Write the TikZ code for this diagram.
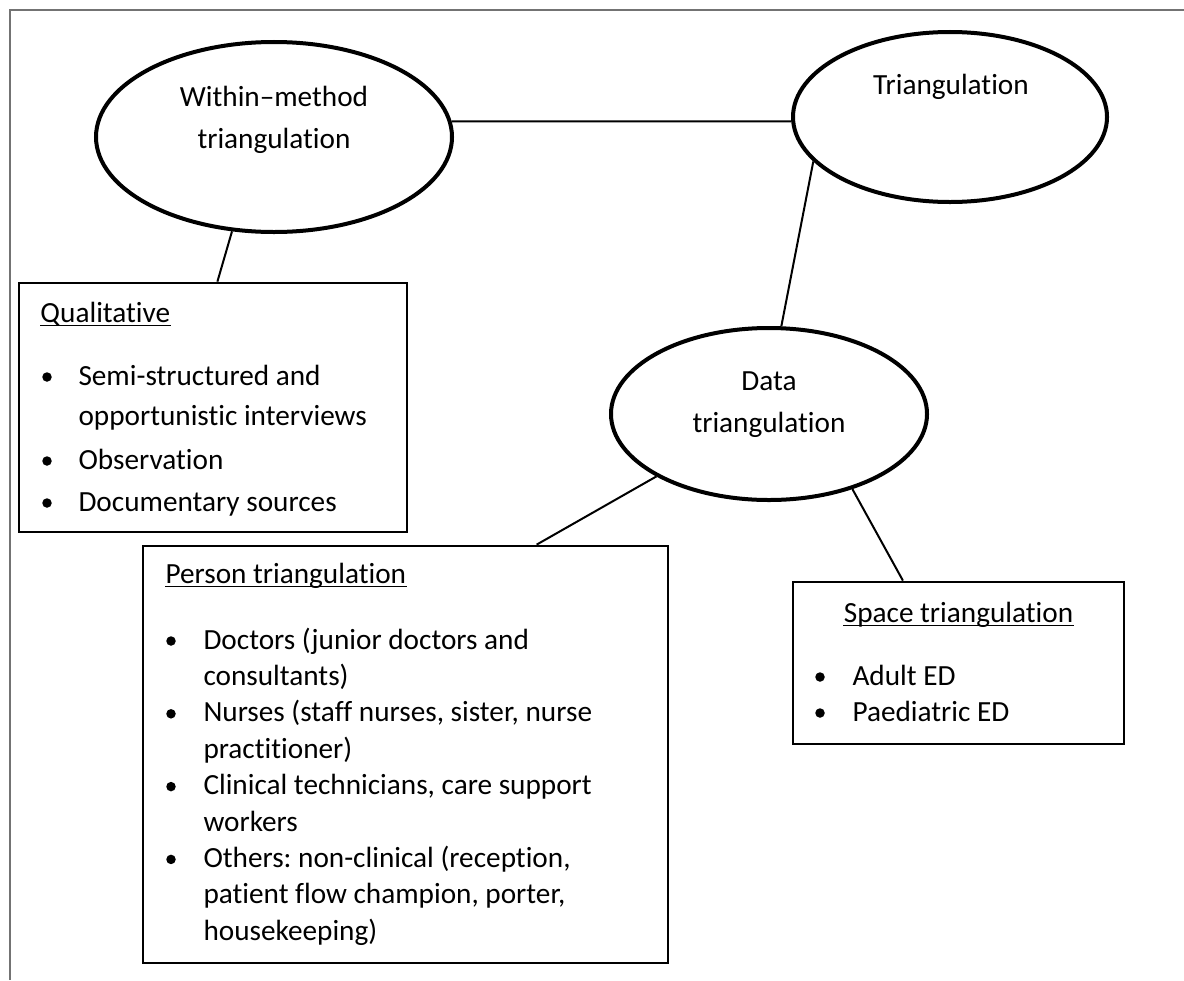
\documentclass[tikz,border=0pt]{standalone}
\usepackage{fontspec}
\setmainfont{Carlito}[Ligatures={TeX,CommonOff}]
\frenchspacing
\usetikzlibrary{shapes.geometric}

\tikzset{
  oval/.style={ellipse, draw, line width=1.6pt, inner sep=0pt},
  listbox/.style={rectangle, draw, line width=1.1pt, inner sep=0pt},
  link/.style={line width=0.8pt},
  txt/.style={anchor=base west, inner sep=0pt, font=\fontsize{11.7}{14}\selectfont},
  ctxt/.style={anchor=base, inner sep=0pt, font=\fontsize{11.7}{14}\selectfont},
  bulletdot/.style={circle, fill, inner sep=0pt, minimum size=3.8pt},
}

\begin{document}
\begin{tikzpicture}[x=0.4pt, y=-0.4pt]
	\useasboundingbox (0,0) rectangle (1184,980);
	% page frame
	\draw[black!55, line width=0.8pt] (10,980) -- (10,10) -- (1184,10);

	% ovals
	\node (within) at (274,137) [oval, minimum width=142.4pt, minimum height=76pt] {};
	\node (tri) at (950,117) [oval, minimum width=125.6pt, minimum height=68pt] {};
	\node (data) at (769,414) [oval, minimum width=126.4pt, minimum height=68.8pt] {};
		\node (w1) at (274,106) [ctxt] {Within–method};
		\node (w2) at (274,148) [ctxt] {triangulation};
		\node (t1) at (951,94) [ctxt] {Triangulation};
		\node (d1) at (769,390) [ctxt] {Data};
		\node (d2) at (769,432) [ctxt] {triangulation};

	% boxes
	\node (qual) at (213,407.5) [listbox, minimum width=155.2pt, minimum height=99.6pt] {};
	\node (person) at (405.5,754.5) [listbox, minimum width=210pt, minimum height=166.8pt] {};
	\node (space) at (958.5,663) [listbox, minimum width=132.4pt, minimum height=64.8pt] {};

	% titles
	\node (qualtitle) at (40,322) [txt] {Qualitative};
	\node (persontitle) at (165,583) [txt] {Person triangulation};
	\node (spacetitle) at (958.5,622) [ctxt] {Space triangulation};
	\foreach \t in {qualtitle, persontitle, spacetitle}
		\draw[line width=0.5pt] ([yshift=-1.4pt]\t.base west) -- ([yshift=-1.4pt]\t.base east);

	% lists
	\foreach \y/\line [count=\i] in {385/Semi-structured and, 425/opportunistic interviews,
		469/Observation, 511/Documentary sources}
		\node (q\i) at (78,\y) [txt] {\line};
	\foreach \y [count=\i] in {385,469,511}
		\node (qb\i) at (47,\y-8) [bulletdot] {};

	\foreach \y/\line [count=\i] in {649/Doctors (junior doctors and, 685.4/consultants),
		721.8/{Nurses (staff nurses, sister, nurse}, 758.2/practitioner),
		794.6/{Clinical technicians, care support}, 831/workers,
		867.4/{Others: non-clinical (reception,}, 903.8/{patient flow champion, porter,},
		940.2/housekeeping)}
		\node (p\i) at (203,\y) [txt] {\line};
	\foreach \y [count=\i] in {649,721.8,794.6,867.4}
		\node (pb\i) at (171,\y-8) [bulletdot] {};

	\foreach \y/\line [count=\i] in {685/Adult ED, 721/Paediatric ED}
		\node (s\i) at (852,\y) [txt] {\line};
	\foreach \y [count=\i] in {685,721}
		\node (sb\i) at (820,\y-8) [bulletdot] {};

	% connectors
	\draw[link] (within.5) -- (within.5 -| tri.west)
		  (within.246) -- (qual.88)
		  (tri.198) -- (data.82)
		  (data.209) -- (person.58)
		  (data.318) -- (space.124);
\end{tikzpicture}
\end{document}
